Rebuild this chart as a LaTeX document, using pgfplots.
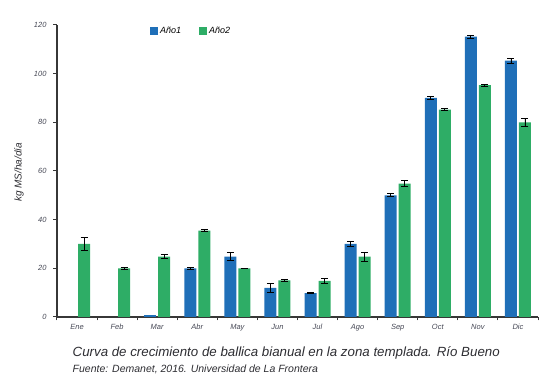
\documentclass[border=0pt]{standalone}
\usepackage{pgfplots}
\pgfplotsset{compat=1.18}
\usepackage{pgfplotstable}
\usepackage{fontspec}
\setmainfont{Liberation Sans}
\definecolor{blueA}{RGB}{31,111,184}
\definecolor{greenA}{RGB}{46,173,102}
\definecolor{axgray}{RGB}{55,55,55}
\definecolor{txtgray}{RGB}{70,72,85}
\definecolor{captgray}{RGB}{45,45,50}

\pgfplotstableread{
x y e
3 20 0.5
4 24.8 1.7
5 12 1.8
6 9.8 0.3
7 30 1.0
8 50 0.6
9 90 0.8
10 115.2 0.7
11 105.4 1.0
}\anoA
\pgfplotstableread{
x y
2 1
}\anoAmar
\pgfplotstableread{
x y e
0 30 2.8
1 20 0.3
2 24.8 0.8
3 35.5 0.3
4 20 0.1
5 15 0.5
6 14.8 1.1
7 24.8 1.8
8 54.8 1.3
9 85.2 0.3
10 95.3 0.4
11 80 1.6
}\anoB

\begin{document}
\begin{tikzpicture}
\useasboundingbox (0,0) rectangle (558pt,388pt);
\begin{axis}[
  at={(57pt,71pt)}, anchor=south west,
  scale only axis, width=481pt, height=292pt,
  xmin=-0.5, xmax=11.5, ymin=0, ymax=120,
  axis x line*=bottom, axis y line*=left,
  axis line style={axgray, line width=1.2pt},
  ybar, bar width=12pt,
  xtick={-0.5,0.5,...,11.5},
  x tick label as interval,
  xticklabels={Ene,Feb,Mar,Abr,May,Jun,Jul,Ago,Sep,Oct,Nov,Dic},
  ytick={0,20,...,120},
  tick align=outside, major tick length=3.5pt,
  tick style={axgray, line width=1pt},
  /pgf/number format/assume math mode=true,
  ticklabel style={font=\itshape\fontsize{7.5}{8}\selectfont, text=txtgray},
  yticklabel style={xshift=-3.5pt},
  legend style={at={(0.187,0.979)}, anchor=west, draw=none, fill=none,
    legend columns=2, font=\itshape\fontsize{9}{10}\selectfont,
    /tikz/every even column/.append style={column sep=16pt}},
  legend image code/.code={\fill[#1] (0pt,-4pt) rectangle (8pt,4pt);},
  error bars/error bar style={black, line width=0.9pt},
  error bars/error mark options={rotate=90, black, mark size=3.5pt, line width=0.9pt},
]
\addplot[fill=blueA, draw=none, bar shift=-7pt,
  error bars/.cd, y dir=both, y explicit]
  table[x=x, y=y, y error=e] {\anoA};
\addlegendentry{Año1}
\addplot[fill=greenA, draw=none, bar shift=7pt,
  error bars/.cd, y dir=both, y explicit]
  table[x=x, y=y, y error=e] {\anoB};
\addlegendentry{Año2}
\addplot[fill=blueA, draw=none, bar shift=-7pt, forget plot]
  table[x=x, y=y] {\anoAmar};
\end{axis}
\node[rotate=90, font=\itshape\fontsize{10}{11}\selectfont, text=captgray] at (19pt,215.5pt) {kg MS/ha/día};
\node[anchor=west, inner sep=0pt, font=\itshape\fontsize{13.3}{14}\selectfont, text=captgray] at (72.5pt,34.7pt) {Curva de crecimiento de ballica bianual en la zona templada. Río Bueno};
\node[anchor=west, inner sep=0pt, font=\itshape\fontsize{10.5}{11}\selectfont, text=captgray] at (72.5pt,18.3pt) {Fuente: Demanet, 2016. Universidad de La Frontera};
\end{tikzpicture}
\end{document}
